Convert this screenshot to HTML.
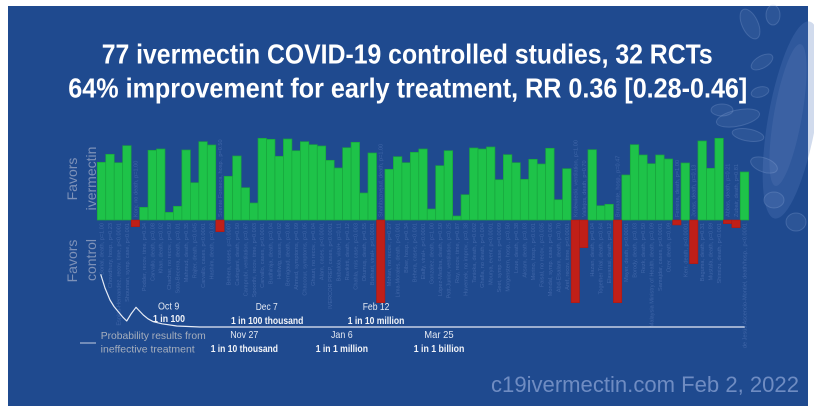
<!DOCTYPE html>
<html><head><meta charset="utf-8"><style>
html,body{margin:0;padding:0;background:#fff;}
svg{display:block;}
.lb{font-family:"Liberation Sans",sans-serif;font-size:5.6px;fill:#4066a8;}
.dt{font-family:"Liberation Sans",sans-serif;font-size:10.5px;fill:#e4e9f2;}
.db{font-family:"Liberation Sans",sans-serif;font-size:10.5px;font-weight:bold;fill:#f2f4f8;}
</style></head><body>
<svg width="814" height="412" viewBox="0 0 814 412" xmlns="http://www.w3.org/2000/svg">
<rect x="0" y="0" width="814" height="412" fill="#fff"/>
<rect x="8" y="6" width="800" height="400" fill="#1f4a8f"/>
<!-- virus decoration -->
<g>
<ellipse cx="792" cy="120" rx="24" ry="100" transform="rotate(10 792 120)" fill="#5a7fbd" fill-opacity="0.28"/>
<ellipse cx="788" cy="115" rx="14" ry="72" transform="rotate(10 788 115)" fill="#7d9bd0" fill-opacity="0.15"/>
<g fill="#8aa6d8" fill-opacity="0.12" stroke="#a9bfe6" stroke-opacity="0.22" stroke-width="1">
<ellipse cx="738" cy="118" rx="22" ry="8" transform="rotate(-12 738 118)"/>
<ellipse cx="722" cy="110" rx="11" ry="6"/>
<ellipse cx="748" cy="135" rx="16" ry="6" transform="rotate(10 748 135)"/>
<ellipse cx="750" cy="24" rx="8" ry="16" transform="rotate(-25 750 24)"/>
<ellipse cx="773" cy="15" rx="7" ry="10"/>
<ellipse cx="762" cy="62" rx="12" ry="6" transform="rotate(-30 762 62)"/>
<ellipse cx="764" cy="165" rx="14" ry="7" transform="rotate(20 764 165)"/>
<ellipse cx="774" cy="200" rx="10" ry="8"/>
<ellipse cx="796" cy="222" rx="10" ry="9"/>
<ellipse cx="760" cy="92" rx="9" ry="5" transform="rotate(-15 760 92)"/>
</g>
</g>
<!-- title -->
<text x="101.7" y="63.5" font-family="Liberation Sans, sans-serif" font-weight="bold" font-size="28" fill="#ffffff" textLength="611" lengthAdjust="spacingAndGlyphs">77 ivermectin COVID-19 controlled studies, 32 RCTs</text>
<text x="68.3" y="97.5" font-family="Liberation Sans, sans-serif" font-weight="bold" font-size="28" fill="#ffffff" textLength="679" lengthAdjust="spacingAndGlyphs">64% improvement for early treatment, RR 0.36 [0.28-0.46]</text>
<!-- axis labels -->
<g font-family="Liberation Sans, sans-serif" font-size="14" fill="#7d91b8" text-anchor="middle">
<text transform="translate(77,179) rotate(-90)">Favors</text>
<text transform="translate(96,178.5) rotate(-90)">ivermectin</text>
<text transform="translate(77,261) rotate(-90)">Favors</text>
<text transform="translate(96,260) rotate(-90)">control</text>
</g>
<!-- bars -->
<g fill="#1ec349" stroke="#18a53d" stroke-width="0.7">
<rect x="97.30" y="162.3" width="8.46" height="57.7"/>
<rect x="105.76" y="154.3" width="8.46" height="65.7"/>
<rect x="114.22" y="162.7" width="8.46" height="57.3"/>
<rect x="122.68" y="145.7" width="8.46" height="74.3"/>
<rect x="139.60" y="207.3" width="8.46" height="12.7"/>
<rect x="148.06" y="150.3" width="8.46" height="69.7"/>
<rect x="156.52" y="149" width="8.46" height="71"/>
<rect x="164.98" y="212.3" width="8.46" height="7.7"/>
<rect x="173.44" y="206.3" width="8.46" height="13.7"/>
<rect x="181.90" y="150" width="8.46" height="70"/>
<rect x="190.36" y="182.7" width="8.46" height="37.3"/>
<rect x="198.82" y="141.7" width="8.46" height="78.3"/>
<rect x="207.28" y="145" width="8.46" height="75"/>
<rect x="224.20" y="176.3" width="8.46" height="43.7"/>
<rect x="232.66" y="156" width="8.46" height="64"/>
<rect x="241.12" y="187.7" width="8.46" height="32.3"/>
<rect x="249.58" y="203" width="8.46" height="17"/>
<rect x="258.04" y="138.3" width="8.46" height="81.7"/>
<rect x="266.50" y="139.3" width="8.46" height="80.7"/>
<rect x="274.96" y="156.3" width="8.46" height="63.7"/>
<rect x="283.42" y="139" width="8.46" height="81"/>
<rect x="291.88" y="150.7" width="8.46" height="69.3"/>
<rect x="300.34" y="141.7" width="8.46" height="78.3"/>
<rect x="308.80" y="144.7" width="8.46" height="75.3"/>
<rect x="317.26" y="146" width="8.46" height="74"/>
<rect x="325.72" y="160.3" width="8.46" height="59.7"/>
<rect x="334.18" y="168" width="8.46" height="52"/>
<rect x="342.64" y="147.7" width="8.46" height="72.3"/>
<rect x="351.10" y="142.3" width="8.46" height="77.7"/>
<rect x="359.56" y="193" width="8.46" height="27"/>
<rect x="368.02" y="153" width="8.46" height="67"/>
<rect x="384.94" y="169.3" width="8.46" height="50.7"/>
<rect x="393.40" y="156.7" width="8.46" height="63.3"/>
<rect x="401.86" y="162.7" width="8.46" height="57.3"/>
<rect x="410.32" y="152.3" width="8.46" height="67.7"/>
<rect x="418.78" y="149" width="8.46" height="71"/>
<rect x="427.24" y="209" width="8.46" height="11"/>
<rect x="435.70" y="165.7" width="8.46" height="54.3"/>
<rect x="444.16" y="150.7" width="8.46" height="69.3"/>
<rect x="452.62" y="216" width="8.46" height="4"/>
<rect x="461.08" y="194.7" width="8.46" height="25.3"/>
<rect x="469.54" y="148" width="8.46" height="72"/>
<rect x="478.00" y="149" width="8.46" height="71"/>
<rect x="486.46" y="147" width="8.46" height="73"/>
<rect x="494.92" y="179.7" width="8.46" height="40.3"/>
<rect x="503.38" y="154.7" width="8.46" height="65.3"/>
<rect x="511.84" y="162.7" width="8.46" height="57.3"/>
<rect x="520.30" y="179.3" width="8.46" height="40.7"/>
<rect x="528.76" y="159.3" width="8.46" height="60.7"/>
<rect x="537.22" y="164" width="8.46" height="56"/>
<rect x="545.68" y="148.3" width="8.46" height="71.7"/>
<rect x="554.14" y="199.7" width="8.46" height="20.3"/>
<rect x="562.60" y="168.7" width="8.46" height="51.3"/>
<rect x="587.98" y="149.7" width="8.46" height="70.3"/>
<rect x="596.44" y="205.7" width="8.46" height="14.3"/>
<rect x="604.90" y="204.3" width="8.46" height="15.7"/>
<rect x="621.82" y="175" width="8.46" height="45"/>
<rect x="630.28" y="144.7" width="8.46" height="75.3"/>
<rect x="638.74" y="155" width="8.46" height="65"/>
<rect x="647.20" y="163.7" width="8.46" height="56.3"/>
<rect x="655.66" y="155" width="8.46" height="65"/>
<rect x="664.12" y="159" width="8.46" height="61"/>
<rect x="681.04" y="163" width="8.46" height="57"/>
<rect x="697.96" y="141" width="8.46" height="79"/>
<rect x="706.42" y="168.3" width="8.46" height="51.7"/>
<rect x="714.88" y="138.3" width="8.46" height="81.7"/>
<rect x="740.26" y="172" width="8.46" height="48"/>
</g>
<g fill="#c01f18" stroke="#a91812" stroke-width="0.5">
<rect x="131.14" y="220" width="8.46" height="6.7"/>
<rect x="215.74" y="220" width="8.46" height="11.7"/>
<rect x="376.48" y="220" width="8.46" height="82.7"/>
<rect x="571.06" y="220" width="8.46" height="82.7"/>
<rect x="579.52" y="220" width="8.46" height="27.7"/>
<rect x="613.36" y="220" width="8.46" height="82.7"/>
<rect x="672.58" y="220" width="8.46" height="5"/>
<rect x="689.50" y="220" width="8.46" height="43.7"/>
<rect x="723.34" y="220" width="8.46" height="3.7"/>
<rect x="731.80" y="220" width="8.46" height="7.7"/>
</g>
<!-- study labels (positive: below zero line) -->
<g class="lb" text-anchor="end">
<text transform="translate(103.5,223) rotate(-90)">Gorial, death, p=1.00</text>
<text transform="translate(112,223) rotate(-90)">Chowdhury, hosp., p=0.23</text>
<text transform="translate(120.4,223) rotate(-90)">Espitia-Hernandez, recov. time, p&lt;0.0001</text>
<text transform="translate(128.9,223) rotate(-90)">Shouman, symp. case, p&lt;0.001</text>
<text transform="translate(145.8,223) rotate(-90)">Podder, recov. time, p=0.34</text>
<text transform="translate(154.3,223) rotate(-90)">Carvallo, death, p=0.08</text>
<text transform="translate(162.7,223) rotate(-90)">Khan, death, p=0.02</text>
<text transform="translate(171.2,223) rotate(-90)">Chachar, no recov., p=0.50</text>
<text transform="translate(179.6,223) rotate(-90)">Soto-Becerra, death, p=0.01</text>
<text transform="translate(188.1,223) rotate(-90)">Mahmud, death, p=0.35</text>
<text transform="translate(196.6,223) rotate(-90)">Rajter, death, p=0.045</text>
<text transform="translate(205,223) rotate(-90)">Carvallo, cases, p&lt;0.0001</text>
<text transform="translate(213.5,223) rotate(-90)">Hashim, death, p=0.03</text>
<text transform="translate(230.4,223) rotate(-90)">Behera, cases, p=0.0007</text>
<text transform="translate(238.9,223) rotate(-90)">Cadegiani, death, p=0.50</text>
<text transform="translate(247.3,223) rotate(-90)">Camprubí, ventilation, p=0.67</text>
<text transform="translate(255.8,223) rotate(-90)">Spoorthi, recov. time, p=0.003</text>
<text transform="translate(264.2,223) rotate(-90)">Carvallo, cases, p&lt;0.0001</text>
<text transform="translate(272.7,223) rotate(-90)">Budhiraja, death, p=0.04</text>
<text transform="translate(281.2,223) rotate(-90)">Hellwig, cases, p=0.02</text>
<text transform="translate(289.6,223) rotate(-90)">Bernigaud, death, p=0.08</text>
<text transform="translate(298.1,223) rotate(-90)">Ahmed, symptoms, p=0.09</text>
<text transform="translate(306.5,223) rotate(-90)">Chaccour, symptoms, p=0.05</text>
<text transform="translate(315,223) rotate(-90)">Ghauri, no recov., p=0.04</text>
<text transform="translate(323.5,223) rotate(-90)">Alam, cases, p&lt;0.0001</text>
<text transform="translate(331.9,223) rotate(-90)">IVERCOR PREP, cases, p&lt;0.0001</text>
<text transform="translate(340.4,223) rotate(-90)">Babalola, viral+, p=0.11</text>
<text transform="translate(348.9,223) rotate(-90)">Ravikirti, death, p=0.12</text>
<text transform="translate(357.3,223) rotate(-90)">Chahla, m/s case, p=0.003</text>
<text transform="translate(365.8,223) rotate(-90)">Okumuş, death, p=0.55</text>
<text transform="translate(374.2,223) rotate(-90)">Bukhari, viral+, p&lt;0.0001</text>
<text transform="translate(391.2,223) rotate(-90)">Mohan, no recov., p=0.27</text>
<text transform="translate(399.6,223) rotate(-90)">Lima-Morales, death, p&lt;0.001</text>
<text transform="translate(408.1,223) rotate(-90)">Biber, hosp., p=0.34</text>
<text transform="translate(416.5,223) rotate(-90)">Behera, cases, p&lt;0.001</text>
<text transform="translate(425,223) rotate(-90)">Elalfy, viral+, p&lt;0.0001</text>
<text transform="translate(433.5,223) rotate(-90)">Gonzalez, death, p=1.00</text>
<text transform="translate(441.9,223) rotate(-90)">López-Medina, death, p=0.50</text>
<text transform="translate(450.4,223) rotate(-90)">Pott-Junior, ventilation, p=0.25</text>
<text transform="translate(458.9,223) rotate(-90)">Roy, recov. time, p=0.87</text>
<text transform="translate(467.3,223) rotate(-90)">Huvemek, no improv., p=0.38</text>
<text transform="translate(475.8,223) rotate(-90)">Tanioka, death, p=0.002</text>
<text transform="translate(484.2,223) rotate(-90)">Ghafla, no death, p=0.004</text>
<text transform="translate(492.7,223) rotate(-90)">Mourya, event, p&lt;0.0001</text>
<text transform="translate(501.2,223) rotate(-90)">Seet, symp. case, p=0.0009</text>
<text transform="translate(509.6,223) rotate(-90)">Morgenstern, hosp., p=0.50</text>
<text transform="translate(518.1,223) rotate(-90)">Loue, death, p=0.38</text>
<text transform="translate(526.5,223) rotate(-90)">Aksam, death, p=0.03</text>
<text transform="translate(535,223) rotate(-90)">Merino, hosp., p&lt;0.001</text>
<text transform="translate(543.5,223) rotate(-90)">Faisal, no recov., p=0.035</text>
<text transform="translate(551.9,223) rotate(-90)">Mondal, symp. case, p=0.006</text>
<text transform="translate(560.4,223) rotate(-90)">Abd-Elsalam, death, p=0.70</text>
<text transform="translate(568.8,223) rotate(-90)">Aref, recov. time, p&lt;0.0001</text>
<text transform="translate(594.2,223) rotate(-90)">Hazan, death, p=0.04</text>
<text transform="translate(602.7,223) rotate(-90)">Together Trial, death, p=0.64</text>
<text transform="translate(611.1,223) rotate(-90)">Elavarasi, death, p=0.12</text>
<text transform="translate(628,223) rotate(-90)">Mayer, death, p&lt;0.0001</text>
<text transform="translate(636.5,223) rotate(-90)">Borody, death, p=0.03</text>
<text transform="translate(645,223) rotate(-90)">Rezk, death, p=0.50</text>
<text transform="translate(653.4,223) rotate(-90)">Malaysia Ministry of Health, death, p=0.09</text>
<text transform="translate(661.9,223) rotate(-90)">Samajdar, cases, p&lt;0.0001</text>
<text transform="translate(670.3,223) rotate(-90)">Ozer, death, p=0.09</text>
<text transform="translate(687.3,223) rotate(-90)">Kerr, death, p&lt;0.0001</text>
<text transform="translate(704.2,223) rotate(-90)">Baguma, death, p=0.31</text>
<text transform="translate(712.6,223) rotate(-90)">Mustafa, death, p=0.89</text>
<text transform="translate(721.1,223) rotate(-90)">Shimizu, death, p&lt;0.001</text>
<text transform="translate(746.5,223) rotate(-90)">de Jesús Ascencio-Montiel, death/hosp., p&lt;0.0001</text>
</g>
<!-- study labels (negative: above zero line) -->
<g class="lb" text-anchor="start">
<text transform="translate(137.4,217) rotate(-90)">Kory, no death, p=1.00</text>
<text transform="translate(222,217) rotate(-90)">Szente Fonseca, hosp., p=0.50</text>
<text transform="translate(382.7,217) rotate(-90)">Shahbaznejad, death, p=1.00</text>
<text transform="translate(577.3,217) rotate(-90)">Krolewiecki, ventilation, p=1.00</text>
<text transform="translate(585.8,217) rotate(-90)">Vallejos, death, p=0.70</text>
<text transform="translate(619.6,217) rotate(-90)">Bramante, hosp., p=0.47</text>
<text transform="translate(678.8,217) rotate(-90)">Ferreira, death, p=1.00</text>
<text transform="translate(695.7,217) rotate(-90)">Jonas, death, p=0.13</text>
<text transform="translate(729.6,217) rotate(-90)">Abbas, death, p=0.21</text>
<text transform="translate(738,217) rotate(-90)">Zubair, death, p=0.81</text>
</g>
<!-- probability curve -->
<polyline points="100.7,274.3 105,288 110,300 114,306.5 118.3,311.7 122.5,316.8 126.7,321 131,314 136,307.3 139.5,311 143.3,315 148,318.8 153.3,321.7 162,323.8 176.7,326 200,327 233,327 744.7,327" fill="none" stroke="#e6ebf5" stroke-width="1.2" stroke-linejoin="round"/>
<line x1="80" y1="343" x2="96" y2="343" stroke="#c5cfe0" stroke-width="1"/>
<g font-family="Liberation Sans, sans-serif" font-size="10.4" fill="#a7afbd">
<text x="100.7" y="339" textLength="105" lengthAdjust="spacingAndGlyphs">Probability results from</text>
<text x="100.7" y="352.7" textLength="94" lengthAdjust="spacingAndGlyphs">ineffective treatment</text>
</g>
<!-- date annotations -->
<text class="dt" x="158" y="309.3" textLength="21.3" lengthAdjust="spacingAndGlyphs">Oct 9</text>
<text class="db" x="153" y="322" textLength="32" lengthAdjust="spacingAndGlyphs">1 in 100</text>
<text class="dt" x="255.7" y="310" textLength="22" lengthAdjust="spacingAndGlyphs">Dec 7</text>
<text class="db" x="231" y="324" textLength="72.3" lengthAdjust="spacingAndGlyphs">1 in 100 thousand</text>
<text class="dt" x="362.7" y="310" textLength="26.7" lengthAdjust="spacingAndGlyphs">Feb 12</text>
<text class="db" x="347.7" y="324" textLength="56.7" lengthAdjust="spacingAndGlyphs">1 in 10 million</text>
<text class="dt" x="230.3" y="338" textLength="28" lengthAdjust="spacingAndGlyphs">Nov 27</text>
<text class="db" x="210.7" y="352" textLength="67.3" lengthAdjust="spacingAndGlyphs">1 in 10 thousand</text>
<text class="dt" x="331" y="338" textLength="21.7" lengthAdjust="spacingAndGlyphs">Jan 6</text>
<text class="db" x="315.7" y="352" textLength="52.3" lengthAdjust="spacingAndGlyphs">1 in 1 million</text>
<text class="dt" x="424.3" y="338" textLength="29.3" lengthAdjust="spacingAndGlyphs">Mar 25</text>
<text class="db" x="413.7" y="352" textLength="50.7" lengthAdjust="spacingAndGlyphs">1 in 1 billion</text>
<!-- watermark -->
<text x="491" y="392" font-family="Liberation Sans, sans-serif" font-size="22" fill="#6f8cc2" textLength="308" lengthAdjust="spacingAndGlyphs">c19ivermectin.com Feb 2, 2022</text>
</svg>
</body></html>
